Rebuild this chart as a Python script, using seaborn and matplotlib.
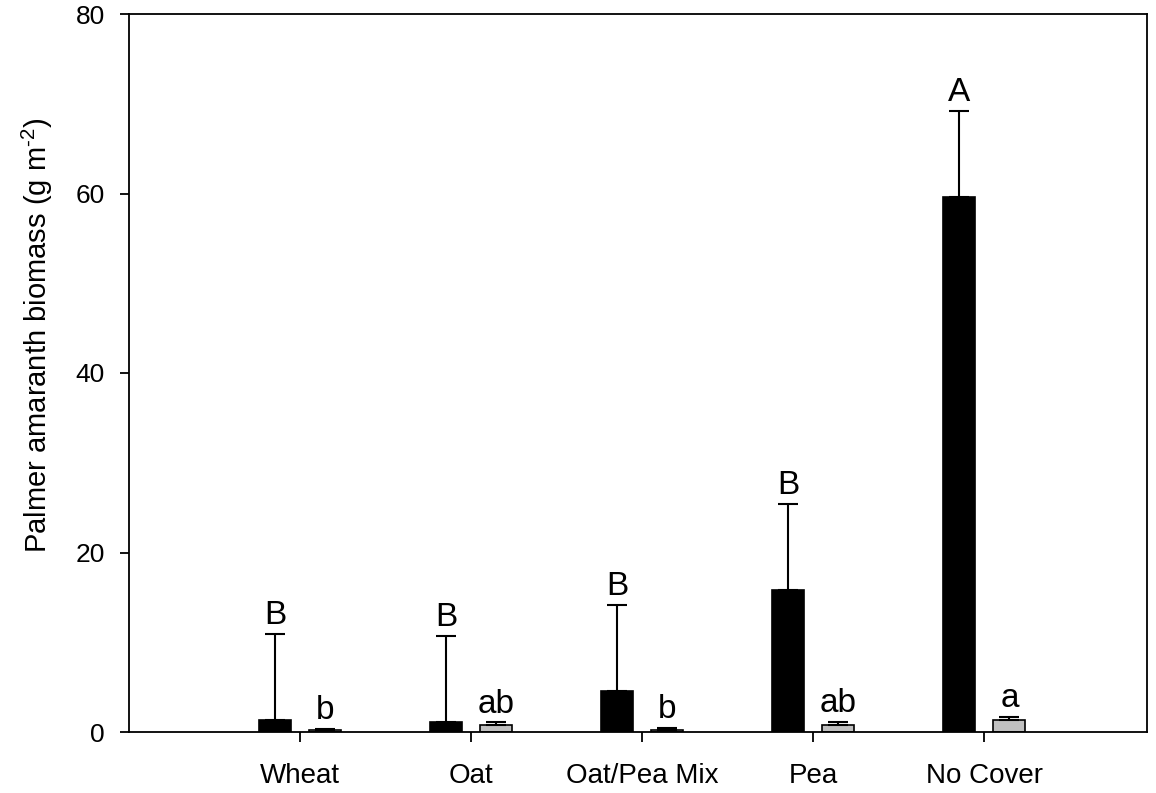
import matplotlib
matplotlib.use("Agg")
import matplotlib.pyplot as plt
import seaborn as sns
import pandas as pd
import numpy as np

categories = ["Wheat", "Oat", "Oat/Pea Mix", "Pea", "No Cover"]
series_names = ["Year 1", "Year 2"]
black_means = [1.3, 1.15, 4.6, 15.8, 59.6]
black_err = [9.6, 9.55, 9.6, 9.6, 9.6]
gray_means = [0.2, 0.78, 0.2, 0.78, 1.34]
gray_err = [0.15, 0.3, 0.25, 0.37, 0.33]
black_letters = ["B", "B", "B", "B", "A"]
gray_letters = ["b", "ab", "b", "ab", "a"]
yticks = [0, 20, 40, 60, 80]

sns.set_style("white")
plt.rcParams["font.family"] = ["Liberation Sans", "DejaVu Sans"]
plt.rcParams["mathtext.fontset"] = "custom"
plt.rcParams["mathtext.rm"] = "Liberation Sans"
plt.rcParams["text.color"] = "black"
plt.rcParams["axes.labelcolor"] = "black"
plt.rcParams["xtick.color"] = "black"
plt.rcParams["ytick.color"] = "black"

df = pd.DataFrame({
    "cat": categories * 2,
    "series": [series_names[0]] * 5 + [series_names[1]] * 5,
    "val": black_means + gray_means,
})

fig = plt.figure(figsize=(11.56, 7.93), dpi=100)
ax = fig.add_axes([129 / 1156, (793 - 732) / 793, (1147 - 129) / 1156, (732 - 14) / 793])

W = 0.584
GAP = 0.36
sns.barplot(data=df, x="cat", y="val", hue="series", order=categories,
            hue_order=series_names, palette=["black", "#c0c0c0"],
            width=W, gap=GAP, errorbar=None, edgecolor="black",
            linewidth=1.2, legend=False, ax=ax)

off = W / 4
x = np.arange(len(categories))
for xs, m, e, lets in [(x - off, black_means, black_err, black_letters),
                       (x + off, gray_means, gray_err, gray_letters)]:
    m = np.array(m); e = np.array(e)
    ax.errorbar(xs, m, yerr=[np.zeros_like(e), e], fmt="none", ecolor="black",
                elinewidth=1.5, capsize=7.5, capthick=1.5, zorder=3)
    for xi, top, lab in zip(xs, m + e, lets):
        ax.annotate(lab, (xi, top), xytext=(0, 7), textcoords="offset points",
                    ha="center", va="baseline", fontsize=24, color="black")

ax.set_xlim(-1.0, 4.95)
ax.set_ylim(0, 80)
ax.set_yticks(yticks)
ax.set_yticklabels([str(t) for t in yticks], fontsize=19)
ax.set_xticks(x)
ax.set_xticklabels(categories, fontsize=20)
ax.set_xlabel("")
ax.set_ylabel(r"Palmer amaranth biomass (g m$^{\text{-2}}$)", fontsize=21)
ax.yaxis.set_label_coords(-0.073, 0.553)
ax.tick_params(axis="y", direction="out", length=6.5, width=1.3, color="black",
               left=True, pad=11)
ax.tick_params(axis="x", direction="out", length=7, width=1.3, color="black",
               bottom=True, pad=15)
for s in ax.spines.values():
    s.set_visible(True)
    s.set_color("black")
    s.set_linewidth(1.3)

fig.savefig("out.png", dpi=100)
